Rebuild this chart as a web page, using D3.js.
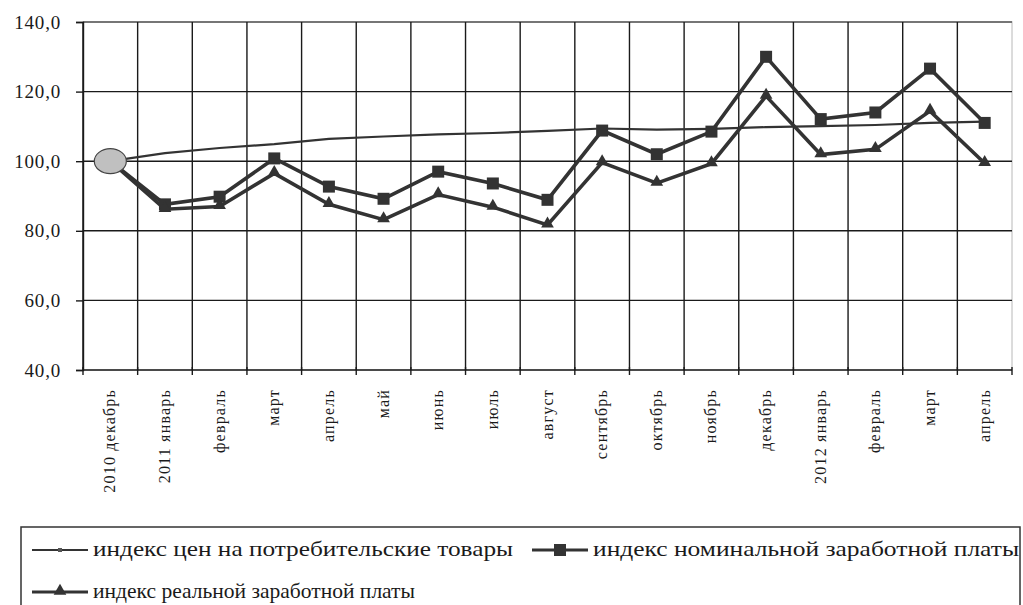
<!DOCTYPE html>
<html lang="ru">
<head>
<meta charset="utf-8">
<title>Индексы цен и заработной платы</title>
<script src="https://cdn.jsdelivr.net/npm/d3@7"></script>
<style>
    body { margin: 0; background: #fff; }
    svg text { font-family: "Liberation Serif", "Times New Roman", "DejaVu Serif", serif; }
    .grid line { stroke: #1a1a1a; stroke-width: 1.4px; }
    .axis path, .axis line { stroke: #1a1a1a; stroke-width: 1.4px; }
    .axis text { fill: #1a1a1a; }
    .series { fill: none; stroke: #333; stroke-linejoin: miter; }
</style>
</head>
<body>
<svg></svg>
<script>
    // months along the x axis
    var months = ["2010 декабрь", "2011 январь", "февраль", "март", "апрель", "май", "июнь", "июль",
        "август", "сентябрь", "октябрь", "ноябрь", "декабрь", "2012 январь", "февраль", "март", "апрель"];

    // индекс цен на потребительские товары
    var cpi = [100, 102.3, 103.8, 104.9, 106.4, 107.1, 107.7, 108.1, 108.7, 109.4, 109.1, 109.3, 109.8, 110.1, 110.4, 111.0, 111.4];
    // индекс номинальной заработной платы
    var nominal = [100, 87.6, 89.8, 100.8, 92.7, 89.2, 97.0, 93.6, 88.9, 108.8, 102.0, 108.5, 130.0, 112.1, 114.0, 126.6, 111.0];
    // индекс реальной заработной платы
    var real = [100, 86.2, 87.0, 96.5, 87.6, 83.2, 90.4, 86.8, 81.7, 99.6, 93.7, 99.3, 118.7, 101.9, 103.4, 114.4, 99.4];

    var yTicks = [40, 60, 80, 100, 120, 140];
    var legendNames = ["индекс цен на потребительские товары", "индекс номинальной заработной платы", "индекс реальной заработной платы"];

    var W = 1023, H = 605;
    var margin = {top: 22, left: 83, right: 11, bottom: 235};
    var cw = W - margin.left - margin.right,
        ch = H - margin.top - margin.bottom;
    var serif = '"Liberation Serif", "Times New Roman", serif';

    var svg = d3.select("svg").attr("width", W).attr("height", H);
    var g = svg.append("g").attr("transform", "translate(" + margin.left + "," + margin.top + ")");

    var idx = d3.range(months.length);
    var x = d3.scaleBand().domain(idx).range([0, cw]);
    var y = d3.scaleLinear().domain([40, 140]).range([ch, 0]);
    var cx = function (i) { return x(i) + x.bandwidth() / 2; };

    // plot border (light)
    g.append("rect").attr("width", cw).attr("height", ch)
        .attr("fill", "none").attr("stroke", "#d0d0d0").attr("stroke-width", 1.5);

    // horizontal grid
    g.append("g").attr("class", "grid")
        .selectAll("line").data(yTicks.slice(1)).enter().append("line")
        .attr("x1", 0).attr("x2", cw)
        .attr("y1", function (d) { return y(d); }).attr("y2", function (d) { return y(d); })
        .style("stroke", function (d) { return d === 140 ? "#555" : null; });

    // vertical grid at category boundaries
    g.append("g").attr("class", "grid")
        .selectAll("line").data(idx).enter().append("line")
        .attr("x1", function (d) { return x(d); }).attr("x2", function (d) { return x(d); })
        .attr("y1", 0).attr("y2", ch);

    // y axis
    var yAxis = g.append("g").attr("class", "axis")
        .call(d3.axisLeft(y).tickValues(yTicks).tickSize(7).tickPadding(15)
            .tickFormat(function (d) { return d3.format(".1f")(d).replace(".", ","); }));
    yAxis.attr("font-family", serif);
    yAxis.selectAll("text").style("font-size", "19px").style("letter-spacing", "0.8px");

    // x axis: boundary ticks + rotated labels
    var xAxis = g.append("g").attr("class", "axis").attr("transform", "translate(0," + ch + ")");
    xAxis.append("line").attr("x1", 0).attr("x2", cw);
    xAxis.selectAll(".tk").data(idx.concat([months.length])).enter().append("line")
        .attr("class", "tk")
        .attr("x1", function (d) { return d * x.step(); }).attr("x2", function (d) { return d * x.step(); })
        .attr("y1", -3).attr("y2", 5);
    xAxis.selectAll(".lbl").data(idx).enter().append("text")
        .attr("class", "lbl")
        .attr("transform", function (d) { return "translate(" + (cx(d) + 5) + ",19) rotate(-90)"; })
        .attr("text-anchor", "end")
        .style("font-size", "16px")
        .style("letter-spacing", "1.2px")
        .text(function (d) { return months[d]; });

    // series lines
    var line = d3.line().x(function (d, i) { return cx(i); }).y(function (d) { return y(d); });

    g.append("path").datum(cpi).attr("class", "series").attr("stroke-width", 2.2).attr("d", line);
    g.append("path").datum(nominal).attr("class", "series").attr("stroke-width", 3.6).attr("d", line);
    g.append("path").datum(real).attr("class", "series").attr("stroke-width", 3.6).attr("d", line);

    // markers
    g.selectAll(".sq").data(nominal).enter().append("rect").attr("class", "sq")
        .attr("x", function (d, i) { return cx(i) - 6; }).attr("y", function (d) { return y(d) - 6; })
        .attr("width", 12).attr("height", 12).attr("fill", "#333");
    var tri = d3.symbol().type(d3.symbolTriangle).size(70);
    g.selectAll(".tri").data(real).enter().append("path").attr("class", "tri")
        .attr("transform", function (d, i) { return "translate(" + cx(i) + "," + (y(d) - 1) + ")"; })
        .attr("d", tri).attr("fill", "#333");

    // base point ellipse
    g.append("ellipse").attr("cx", cx(0)).attr("cy", y(cpi[0]))
        .attr("rx", 16).attr("ry", 12.5)
        .attr("fill", "#c0c0c0").attr("stroke", "#444").attr("stroke-width", 1.2);

    // legend
    var lg = svg.append("g");
    lg.append("rect").attr("x", 21).attr("y", 527).attr("width", 999).attr("height", 90)
        .attr("fill", "#fff").attr("stroke", "#333").attr("stroke-width", 1.5);
    var items = [
        {name: legendNames[0], x: 32, y: 550, w: 420, mark: "dot"},
        {name: legendNames[1], x: 532, y: 550, w: 426, mark: "sq"},
        {name: legendNames[2], x: 32, y: 592, w: 322, mark: "tri"}
    ];
    var it = lg.selectAll(".item").data(items).enter().append("g")
        .attr("transform", function (d) { return "translate(" + d.x + "," + d.y + ")"; });
    it.append("line").attr("x1", 0).attr("x2", 56)
        .attr("stroke", "#333").attr("stroke-width", function (d) { return d.mark === "dot" ? 2 : 3; });
    it.filter(function (d) { return d.mark === "dot"; }).append("rect")
        .attr("x", 26).attr("y", -2).attr("width", 4).attr("height", 4).attr("fill", "#555");
    it.filter(function (d) { return d.mark === "sq"; }).append("rect")
        .attr("x", 22).attr("y", -6).attr("width", 12).attr("height", 12).attr("fill", "#333");
    it.filter(function (d) { return d.mark === "tri"; }).append("path")
        .attr("transform", "translate(28,-1)").attr("d", tri).attr("fill", "#333");
    it.append("text").attr("x", 61).attr("y", 6)
        .attr("font-family", serif)
        .style("font-size", "21px").attr("fill", "#1a1a1a")
        .attr("textLength", function (d) { return d.w; })
        .attr("lengthAdjust", "spacingAndGlyphs")
        .text(function (d) { return d.name; });
</script>
</body>
</html>
